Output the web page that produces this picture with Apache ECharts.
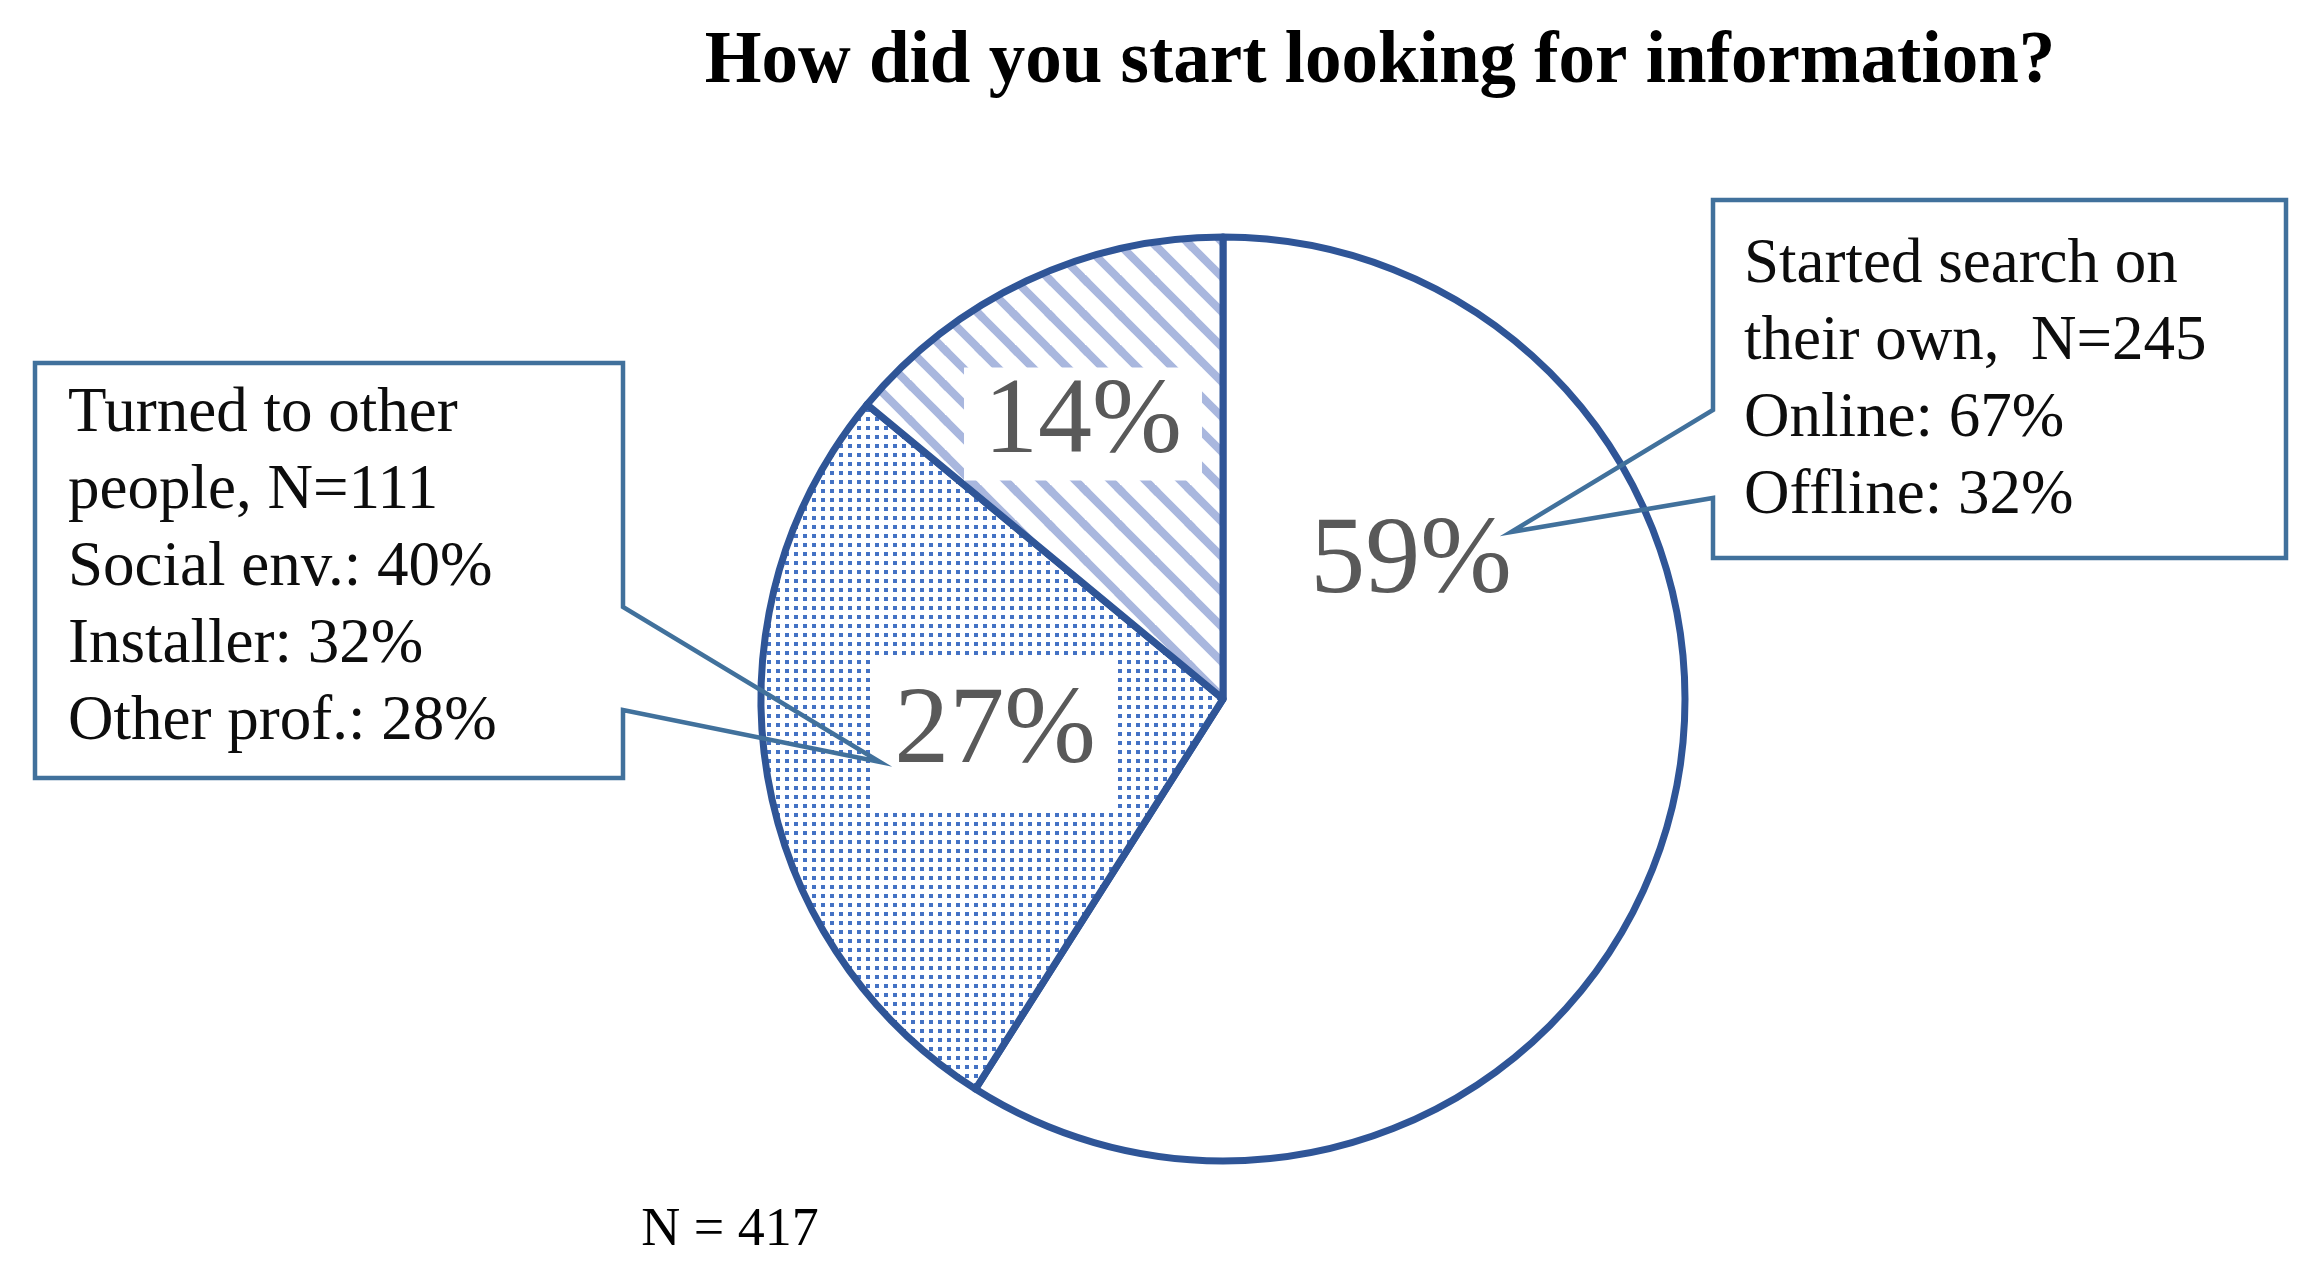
<!DOCTYPE html>
<html>
<head>
<meta charset="utf-8">
<script src="https://cdn.jsdelivr.net/npm/echarts@6/dist/echarts.min.js"></script>
<style>
html,body{margin:0;padding:0;background:#fff;}
#chart{width:2316px;height:1267px;}
</style>
</head>
<body>
<div id="chart"></div>
<script>
// ---- data ----
const titleText = 'How did you start looking for information?';
const sliceNames = ['Started search on their own', 'Turned to other people', 'Other'];
const sliceShares = [59, 27, 14];
const groupCounts = [245, 111];
const ownSubNames = ['Online', 'Offline'];
const ownSubShares = [67, 32];
const peopleSubNames = ['Social env.', 'Installer', 'Other prof.'];
const peopleSubShares = [40, 32, 28];
const totalN = 417;

// ---- patterns ----
function stripePattern() {
  const P = 35;
  const c = document.createElement('canvas');
  c.width = P; c.height = P;
  const g = c.getContext('2d');
  g.fillStyle = '#ffffff'; g.fillRect(0, 0, P, P);
  g.strokeStyle = '#A9B7DE'; g.lineWidth = 8;
  [[-P, 0], [0, 0], [P, 0], [0, -P], [0, P]].forEach(([ox, oy]) => {
    g.beginPath(); g.moveTo(ox - 5, oy - 5); g.lineTo(ox + P + 5, oy + P + 5); g.stroke();
  });
  return c;
}
function dotPattern() {
  const P = 9;
  const c = document.createElement('canvas');
  c.width = P; c.height = P;
  const g = c.getContext('2d');
  g.fillStyle = '#ffffff'; g.fillRect(0, 0, P, P);
  g.fillStyle = '#4472C4'; g.fillRect(2, 3, 4, 4);
  return c;
}

const fills = ['#ffffff', { image: dotPattern(), repeat: 'repeat' }, { image: stripePattern(), repeat: 'repeat' }];
const labelAnchors = { 0: [1411, 563], 1: [995, 733], 2: [1083, 424] };

const chart = echarts.init(document.getElementById('chart'), null, { renderer: 'canvas' });

const rightText = 'Started search on\ntheir own,  N=' + groupCounts[0] + '\n' +
  ownSubNames.map((n, i) => n + ': ' + ownSubShares[i] + '%').join('\n');
const leftText = 'Turned to other\npeople, N=' + groupCounts[1] + '\n' +
  peopleSubNames.map((n, i) => n + ': ' + peopleSubShares[i] + '%').join('\n');

const serif = '"Liberation Serif", "Times New Roman", serif';

chart.setOption({
  animation: false,
  backgroundColor: '#ffffff',
  series: [{
    type: 'pie',
    center: [1223, 699],
    radius: 462,
    startAngle: 90,
    clockwise: true,
    avoidLabelOverlap: false,
    silent: true,
    emphasis: { disabled: true },
    itemStyle: { borderColor: '#2F5597', borderWidth: 7, borderJoin: 'round' },
    label: {
      show: true,
      position: 'inside',
      formatter: p => p.value + '%',
      fontFamily: serif,
      fontSize: 110,
      color: '#595959',
      align: 'center',
      verticalAlign: 'middle'
    },
    labelLine: { show: false },
    labelLayout: params => {
      const a = labelAnchors[params.dataIndex];
      return { x: a[0], y: a[1], align: 'center', verticalAlign: 'middle' };
    },
    data: sliceNames.map((n, i) => {
      const d = { name: n, value: sliceShares[i], itemStyle: { color: fills[i] } };
      if (i === 1) d.label = { backgroundColor: '#ffffff', lineHeight: 110, padding: [22, 22, 18, 22] };
      if (i === 2) d.label = { backgroundColor: '#ffffff', lineHeight: 100, padding: [7, 20, 6, 20], fontSize: 108 };
      return d;
    })
  }],
  graphic: [
    {
      type: 'text', x: 1380, y: 63, z: 10,
      style: { text: titleText, font: 'bold 73px ' + serif, fill: '#000', align: 'center', verticalAlign: 'middle' }
    },
    {
      type: 'text', x: 730, y: 1231, z: 10,
      style: { text: 'N = ' + totalN, font: '54px ' + serif, fill: '#000', align: 'center', verticalAlign: 'middle' }
    },
    {
      type: 'polygon', z: 20,
      shape: { points: [[35, 363], [623, 363], [623, 607], [880, 762], [623, 710], [623, 778], [35, 778]] },
      style: { fill: 'none', stroke: '#41719C', lineWidth: 4.5, lineJoin: 'miter' }
    },
    {
      type: 'polygon', z: 20,
      shape: { points: [[1713, 200], [2286, 200], [2286, 558], [1713, 558], [1713, 498], [1511, 532], [1713, 410]] },
      style: { fill: 'none', stroke: '#41719C', lineWidth: 4.5, lineJoin: 'miter' }
    },
    {
      type: 'text', x: 68, y: 376, z: 21,
      style: { text: leftText, font: '63px ' + serif, fill: '#0D0D0D', align: 'left', verticalAlign: 'top', lineHeight: 77 }
    },
    {
      type: 'text', x: 1744, y: 227, z: 21,
      style: { text: rightText, font: '63px ' + serif, fill: '#0D0D0D', align: 'left', verticalAlign: 'top', lineHeight: 77 }
    }
  ]
});
</script>
</body>
</html>
